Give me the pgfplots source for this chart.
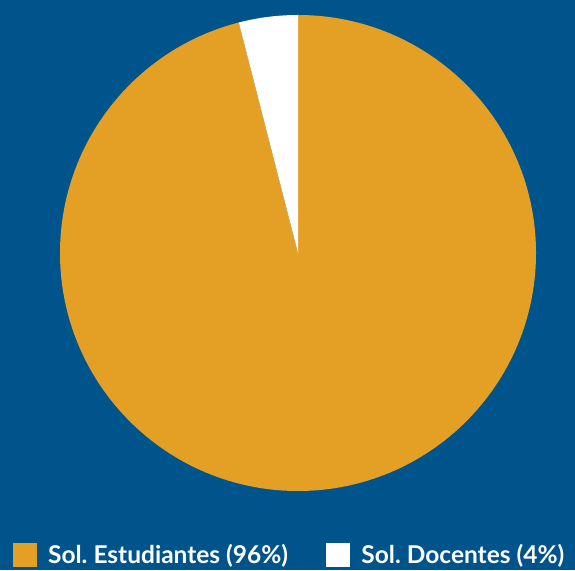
\documentclass[border=0pt]{standalone}
\usepackage{pgfplots}
\pgfplotsset{compat=1.18}
\usepackage{fontspec}
\setmainfont{Lato}
\frenchspacing
\definecolor{bgblue}{RGB}{0,84,140}
\definecolor{pieorange}{RGB}{228,160,36}
% slice values (percent)
\def\valEst{96}
\def\valDoc{4}
\begin{document}
\begin{tikzpicture}[x=1pt,y=1pt]
\fill[bgblue] (0,0) rectangle (575,570);
\begin{axis}[
  at={(298pt,317pt)}, anchor=center,
  scale only axis, width=476pt, height=476pt,
  xmin=-1, xmax=1, ymin=-1, ymax=1,
  hide axis, clip=false,
  legend columns=2,
  legend style={draw=none, fill=none, text=white, font=\fontsize{24.5}{27}\bfseries\selectfont,
    at={(0.480,-0.1334)}, anchor=center,
    /tikz/every odd column/.append style={column sep=12pt},
    /tikz/every even column/.append style={column sep=38pt},
    nodes={inner xsep=0pt, inner ysep=0pt}},
  legend cell align=left,
]
\addlegendimage{legend image code/.code={\fill[pieorange] (0pt,-11.5pt) rectangle (23pt,11.5pt);}}
\addlegendentry{Sol. Estudiantes (96\%)}
\addlegendimage{legend image code/.code={\fill[white] (0pt,-11.5pt) rectangle (23pt,11.5pt);}}
\addlegendentry{Sol. Docentes (4\%)}
\pgfmathsetmacro{\endEst}{90-3.6*\valEst}
\fill[pieorange] (axis cs:0,0) -- (axis cs:0,1) arc[start angle=90, end angle=\endEst, radius=238pt] -- cycle;
\fill[white] (axis cs:0,0) -- (axis cs:0,1) arc[start angle=90, end angle=90+3.6*\valDoc, radius=238pt] -- cycle;
\end{axis}
\end{tikzpicture}
\end{document}
